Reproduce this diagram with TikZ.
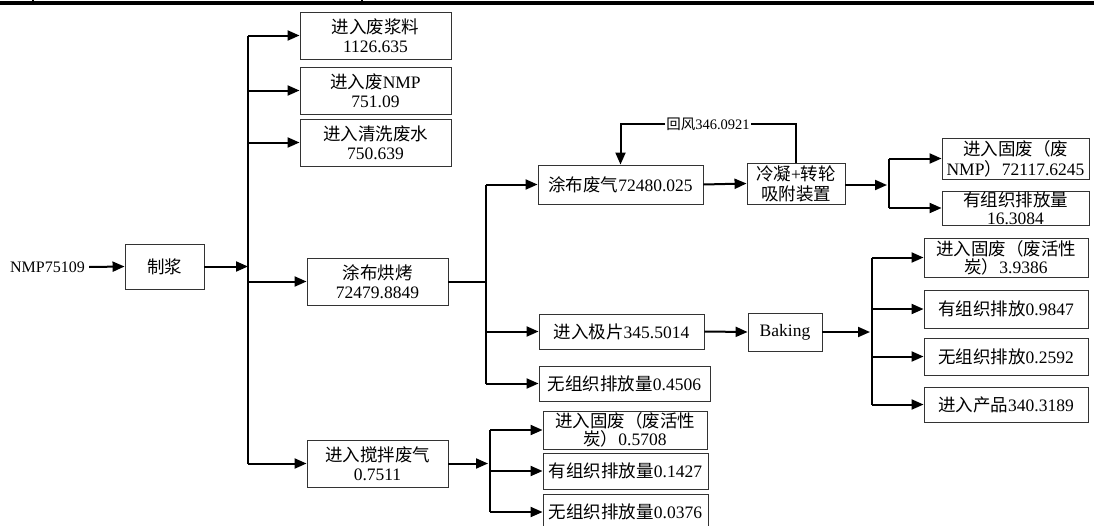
\documentclass[tikz,border=0pt]{standalone}
\usepackage{fontspec}
\setmainfont{Liberation Serif}
\newfontfamily\cjkfont{Noto Sans CJK SC}
\newcommand\zhs[1]{{\cjkfont #1}}
\usetikzlibrary{arrows.meta}

\begin{document}
\begin{tikzpicture}[x=1pt,y=-1pt,
  box/.style={draw=black!80, line width=0.9pt, rectangle, inner sep=0pt,
    align=center, font=\fontsize{17.5}{19}\selectfont},
  conn/.style={line width=2pt},
  bus/.style={line width=2.6pt},
  arr/.style={line width=2pt, -{Triangle[length=12pt,width=10pt]}},
  lbl/.style={inner sep=1pt, font=\fontsize{14.5}{16}\selectfont}
]
\clip (0,0) rectangle (1094,525);
\fill[white] (0,0) rectangle (1094,525);

% table rule at the top of the page
\fill[black] (0,1) rectangle (1094,5.2);
\coordinate (tickA) at (33,0);
\coordinate (tickB) at (362,0);
\draw[line width=1.6pt] (tickA) -- ++(0,2);
\draw[line width=1.6pt] (tickB) -- ++(0,2);

% input and slurry preparation
\node[inner sep=4pt, font=\fontsize{16}{18}\selectfont] (nmp) at (47.5,267) {NMP75109};
\node[box, minimum width=79pt, minimum height=45pt] (zj) at (164.5,266.5) {\zhs{制浆}};

% first-level outputs
\node[box, minimum width=151pt, minimum height=47pt] (b1) at (375.5,35.5) {\zhs{进入废浆料}\\1126.635};
\node[box, minimum width=151pt, minimum height=47pt] (b2) at (375.5,90.5) {\zhs{进入废}NMP\\751.09};
\node[box, minimum width=151pt, minimum height=47pt] (b3) at (375.5,142.5) {\zhs{进入清洗废水}\\750.639};
\node[box, minimum width=141pt, minimum height=47pt] (tb) at (377.5,281.5) {\zhs{涂布烘烤}\\72479.8849};
\node[box, minimum width=141pt, minimum height=47pt] (jb) at (377.5,463.5) {\zhs{进入搅拌废气}\\0.7511};

% coating branch
\node[box, minimum width=165pt, minimum height=39pt] (tq) at (620.5,184.5) {\zhs{涂布废气}72480.025};
\node[box, minimum width=165pt, minimum height=35pt] (jp) at (621.5,331.5) {\zhs{进入极片}345.5014};
\node[box, minimum width=171pt, minimum height=35pt] (wz1) at (624.5,383.5) {\zhs{无组织排放量}0.4506};
\node[box, minimum width=98pt, minimum height=41pt, font=\fontsize{17.5}{20}\selectfont] (lq) at (796,183.5) {\zhs{冷凝}+\zhs{转轮}\\\zhs{吸附装置}};
\node[lbl] (hf) at (708,124) {\zhs{回风}346.0921};

\node[box, minimum width=147pt, minimum height=41pt, font=\fontsize{17.5}{20}\selectfont] (r1) at (1015.5,158.5) {\zhs{进入固废（废}\\NMP\zhs{）}72117.6245};
\node[box, minimum width=147pt, minimum height=34pt, font=\fontsize{17.5}{18}\selectfont] (r2) at (1015.5,208) {\zhs{有组织排放量}\\16.3084};

% baking branch
\node[box, minimum width=74pt, minimum height=38pt] (bk) at (785,332) {Baking};
\node[box, minimum width=164pt, minimum height=39pt, font=\fontsize{17.5}{18}\selectfont] (s1) at (1006,257.5) {\zhs{进入固废（废活性}\\\zhs{炭）}3.9386};
\node[box, minimum width=164pt, minimum height=38pt] (s2) at (1006,309) {\zhs{有组织排放}0.9847};
\node[box, minimum width=164pt, minimum height=37pt] (s3) at (1006,356.5) {\zhs{无组织排放}0.2592};
\node[box, minimum width=164pt, minimum height=35pt] (s4) at (1006,404.5) {\zhs{进入产品}340.3189};

% mixing exhaust branch
\node[box, minimum width=164pt, minimum height=38pt, font=\fontsize{17.5}{18}\selectfont] (t1) at (625,430) {\zhs{进入固废（废活性}\\\zhs{炭）}0.5708};
\node[box, minimum width=165pt, minimum height=36pt] (t2) at (625.5,471) {\zhs{有组织排放量}0.1427};
\node[box, minimum width=165pt, minimum height=36pt] (t3) at (625.5,512) {\zhs{无组织排放量}0.0376};

% split points
\coordinate (busx) at (248,0);
\coordinate (mx) at (486,281.5);
\coordinate (nx) at (889,0);
\coordinate (kx) at (872,0);
\coordinate (px) at (490,0);
\coordinate (nin) at (887,185);
\coordinate (kin) at (870,332);
\coordinate (pin) at (488,463.5);

% main feed
\draw[arr] (nmp.east) -- (zj.west);
\draw[arr] (zj.east) -- (zj.east -| busx);
\draw[bus] (b1.west -| busx) -- (jb.west -| busx);
\foreach \n in {b1,b2,b3,tb,jb} \draw[arr] (\n.west -| busx) -- (\n.west);

% coating split
\draw[conn] (tb.east) -- (mx);
\draw[conn] (mx |- tq.west) -- (mx |- wz1.west);
\foreach \n in {tq,jp,wz1} \draw[arr] (mx |- \n.west) -- (\n.west);

% exhaust treatment and return air
\draw[arr] (tq.east) -- (lq.west);
\draw[conn] (lq.north) |- (hf.east);
\draw[arr] (hf.west) -| (tq.north);
\draw[arr] (lq.east |- nin) -- (nin);
\draw[conn] (nx |- r1.west) -- (nx |- r2.west);
\foreach \n in {r1,r2} \draw[arr] (nx |- \n.west) -- (\n.west);

% baking
\draw[arr] (jp.east) -- (bk.west);
\draw[arr] (bk.east) -- (kin);
\draw[conn] (kx |- s1.west) -- (kx |- s4.west);
\foreach \n in {s1,s2,s3,s4} \draw[arr] (kx |- \n.west) -- (\n.west);

% mixing exhaust
\draw[arr] (jb.east) -- (pin);
\draw[conn] (px |- t1.west) -- (px |- t3.west);
\foreach \n in {t1,t2,t3} \draw[arr] (px |- \n.west) -- (\n.west);
\end{tikzpicture}
\end{document}
